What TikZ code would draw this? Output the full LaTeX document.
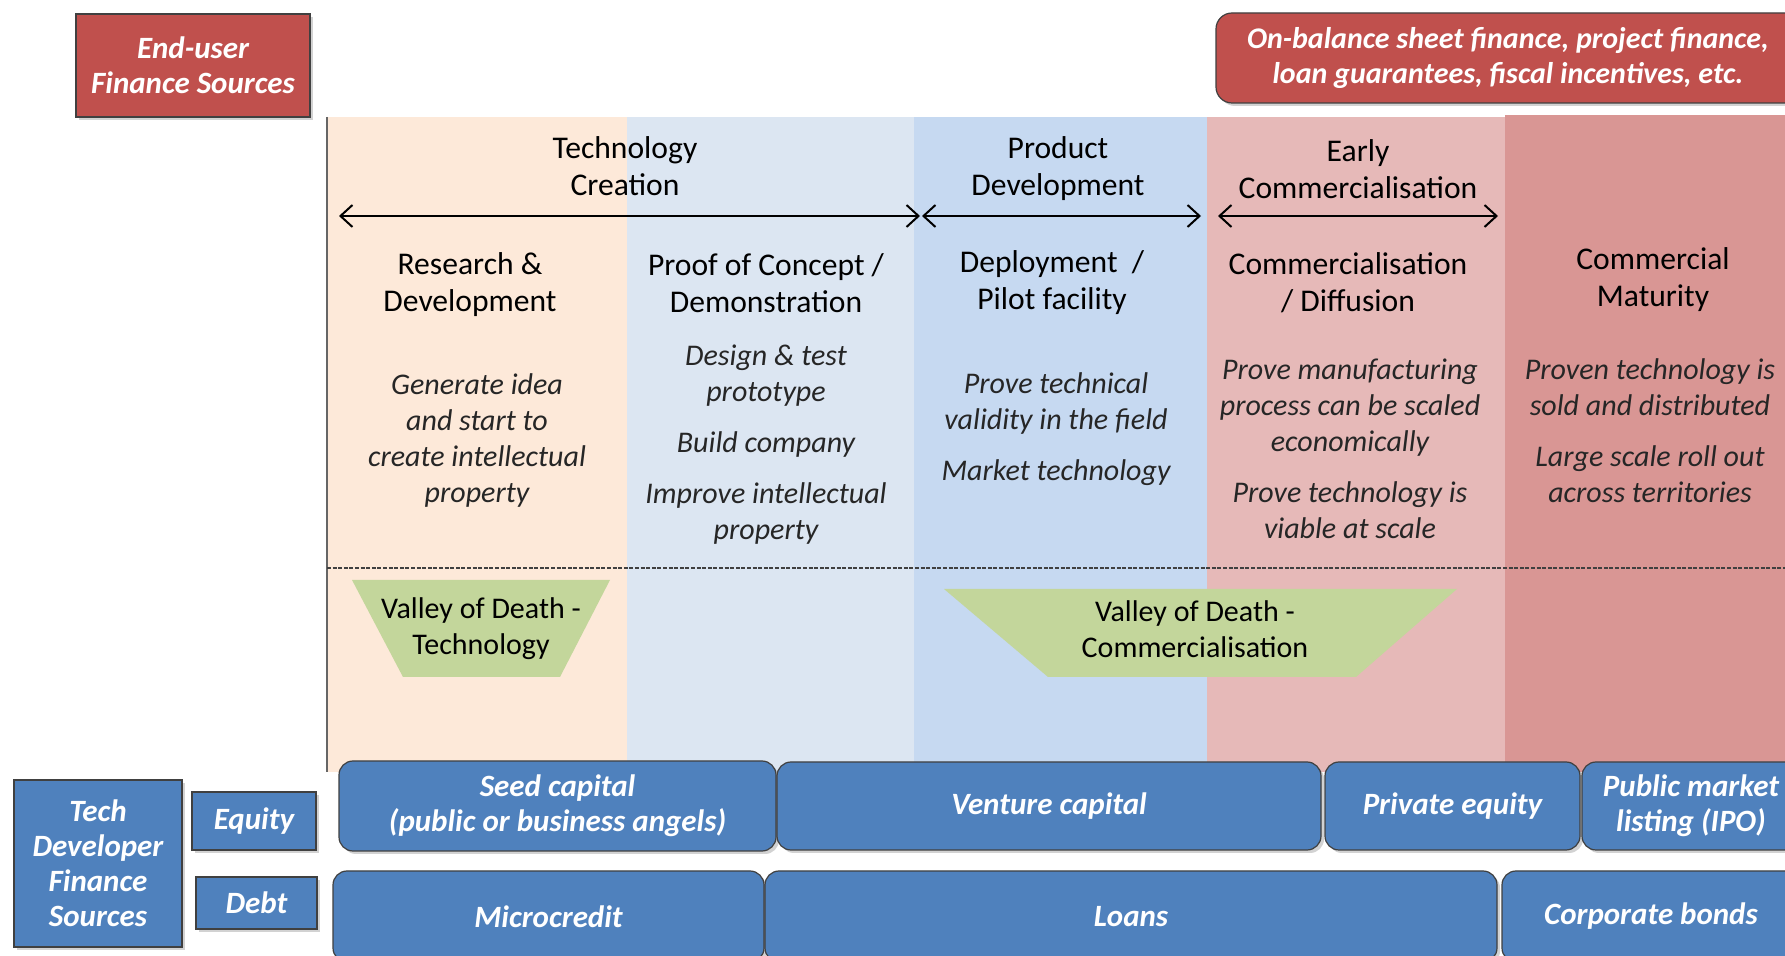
\documentclass[tikz,border=0pt]{standalone}
\usepackage{fontspec}
\setmainfont{Carlito}
\usetikzlibrary{arrows.meta,shadows}
\definecolor{colA}{HTML}{FDE9D9}
\definecolor{colB}{HTML}{DCE6F2}
\definecolor{colC}{HTML}{C6D9F1}
\definecolor{colD}{HTML}{E6B9B8}
\definecolor{colE}{HTML}{D99694}
\definecolor{endred}{HTML}{C0504D}
\definecolor{techblue}{HTML}{4F81BD}
\definecolor{valleygreen}{HTML}{C3D69B}
\begin{document}
\begin{tikzpicture}[x=0.5pt,y=-0.5pt,
  hdr/.style={font=\fontsize{15.8}{18.5}\selectfont, align=center, text=black, inner sep=0pt},
  desc/.style={font=\fontsize{15}{18}\selectfont\itshape, align=center, text=black!85, inner sep=0pt},
  wtext/.style={font=\fontsize{15.5}{17.5}\selectfont\bfseries\itshape, text=white, align=center},
  shad/.style={drop shadow={shadow xshift=1.5pt,shadow yshift=-1.5pt,opacity=0.35}},
  redbox/.style={draw=black!75, line width=0.6pt, fill=endred, shad, wtext, inner sep=0pt},
  bluebox/.style={draw=black!75, line width=0.6pt, fill=techblue, shad, wtext, inner sep=0pt},
  rbox/.style={bluebox, rounded corners=7pt},
  phase/.style={{Straight Barb[length=6pt,width=11pt]}-{Straight Barb[length=6pt,width=11pt]}, line width=1pt, black},
  valley/.style={fill=valleygreen},
  vtext/.style={font=\fontsize{15}{18}\selectfont, align=center, text=black, inner sep=0pt},
]
\useasboundingbox (0,0) rectangle (1785,956);
\clip (0,0) rectangle (1785,956);
\fill[white] (0,0) rectangle (1785,956);

% phase columns
\fill[colA] (327,117) rectangle (627,772);
\fill[colB] (627,117) rectangle (914,772);
\fill[colC] (914,117) rectangle (1207,772);
\fill[colD] (1207,117) rectangle (1505,772);
\fill[colE] (1505,115) rectangle (1785,772);
\coordinate (lt) at (327,117);
\coordinate (lb) at (327,772);
\draw[black!60, line width=1pt] (lt) -- (lb);

% top boxes
\node[redbox, minimum width=117pt, minimum height=51.5pt] (enduser) at (193,65.5) {End-user\\Finance Sources};
\node[redbox, rounded corners=8pt, minimum width=292pt, minimum height=45pt,
  font=\fontsize{15}{17.5}\selectfont\bfseries\itshape] (onbal) at (1508,58)
  {On-balance sheet finance, project finance,\\loan guarantees, fiscal incentives, etc.};

% headers
\node[hdr] (hTC) at (625,166) {Technology\\Creation};
\node[hdr] (hPD) at (1058,169) {Product\\Development};
\node[hdr] (hEC) at (1358,169) {Early\\Commercialisation};

% arrows
\coordinate (a1l) at (339,216);
\coordinate (a1r) at (920,216);
\coordinate (a2l) at (922,216);
\coordinate (a2r) at (1201,216);
\coordinate (a3l) at (1218,216);
\coordinate (a3r) at (1498,216);
\draw[phase] (a1l) -- (a1r);
\draw[phase] (a2l) -- (a2r);
\draw[phase] (a3l) -- (a3r);

% stage titles
\node[hdr] (sRD) at (470,285) {Research \&\\Development};
\node[hdr] (sPC) at (766,283) {Proof of Concept /\\Demonstration};
\node[hdr] (sDP) at (1052,283) {Deployment~~/\\Pilot facility};
\node[hdr] (sCD) at (1348,283) {Commercialisation\\/ Diffusion};
\node[hdr] (sCM) at (1653,280) {Commercial\\Maturity};

% descriptions
\node[desc] (dRD) at (477,441) {Generate idea\\and start to\\create intellectual\\property};
\node[desc] (dPC) at (766,445) {Design \& test\\prototype\\[7.5pt]Build company\\[7.5pt]Improve intellectual\\property};
\node[desc] (dDP) at (1056,429) {Prove technical\\validity in the field\\[7.5pt]Market technology};
\node[desc] (dCD) at (1350,449) {Prove manufacturing\\process can be scaled\\economically\\[7.5pt]Prove technology is\\viable at scale};
\node[desc] (dCM) at (1650,431) {Proven technology is\\sold and distributed\\[7.5pt]Large scale roll out\\across territories};

% dashed separator
\coordinate (dl) at (327,568);
\coordinate (dr) at (1785,568);
\draw[black!75, line width=1.2pt, dash pattern=on 2pt off 0.8pt] (dl) -- (dr);

% valleys of death
\fill[valley] (352,580) -- (610,580) -- (560,677) -- (403,677) -- cycle;
\node[vtext] (vT) at (481,629) {Valley of Death -\\Technology};
\fill[valley] (944,589) -- (1457,589) -- (1356,677) -- (1048,677) -- cycle;
\node[vtext] (vC) at (1195,629) {Valley of Death -\\Commercialisation};

% tech developer finance
\node[bluebox, minimum width=84pt, minimum height=83.5pt] (tdf) at (98,863.5) {Tech\\Developer\\Finance\\Sources};
\node[bluebox, minimum width=62pt, minimum height=29pt] (eq) at (254,821) {Equity};
\node[bluebox, minimum width=60.5pt, minimum height=26pt] (debt) at (256.5,903) {Debt};

% equity row
\node[rbox, minimum width=218.5pt, minimum height=45pt] (seed) at (557.5,806) {Seed capital\\(public or business angels)};
\node[rbox, minimum width=272pt, minimum height=44pt] (vc) at (1049,806) {Venture capital};
\node[rbox, minimum width=127.5pt, minimum height=44pt] (pe) at (1452.5,806) {Private equity};
\node[rbox, minimum width=109pt, minimum height=44pt] (ipo) at (1691,806) {Public market\\listing (IPO)};

% debt row
\node[rbox, minimum width=215.5pt, minimum height=45.5pt] (micro) at (548.5,916.5) {Microcredit};
\node[rbox, minimum width=366pt, minimum height=45.5pt] (loans) at (1131,916.5) {Loans};
\node[rbox, minimum width=149pt, minimum height=45.5pt] (bonds) at (1651,916.5) {Corporate bonds};
\end{tikzpicture}
\end{document}
